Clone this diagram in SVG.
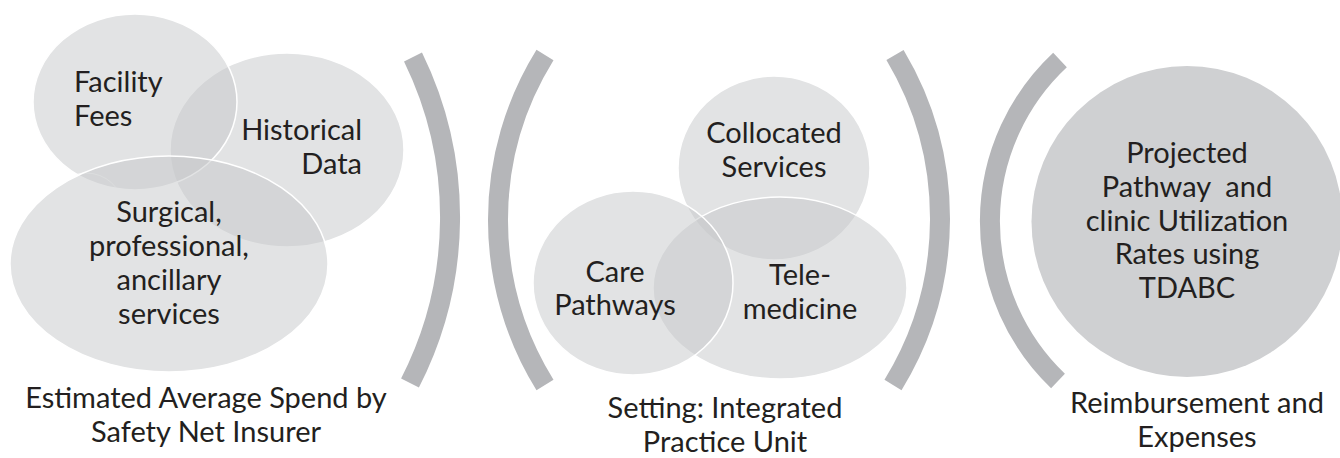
<svg xmlns="http://www.w3.org/2000/svg" width="1340" height="458" viewBox="0 0 1340 458">
  <style>
    .venn { fill: #c6c7c9; fill-opacity: 0.5; stroke: #ffffff; stroke-width: 1.5; }
    .solid { fill: #cfd0d2; }
    .bracket { fill: none; stroke: #b5b6b9; stroke-width: 20; stroke-linecap: butt; }
    text { font-family: "Lato", "Open Sans", sans-serif; font-size: 29px; fill: #231f20; }
    .mid { text-anchor: middle; }
    .end { text-anchor: end; }
  </style>

  <rect width="1340" height="458" fill="#ffffff"/>

  <!-- Stage 1: cost sources -->
  <g id="historical-data">
    <ellipse class="venn" cx="287" cy="150" rx="117" ry="97"/>
    <text class="end" x="362" y="140">Historical</text>
    <text class="end" x="362" y="174">Data</text>
  </g>
  <g id="facility-fees">
    <ellipse class="venn" cx="135" cy="102" rx="102" ry="88"/>
    <text x="74" y="92">Facility</text>
    <text x="74" y="126">Fees</text>
  </g>
  <g id="surgical-services">
    <ellipse cx="86" cy="206" rx="36" ry="33" fill="none" stroke="#ffffff" stroke-opacity="0.5" stroke-width="1"/>
    <ellipse class="venn" cx="169" cy="264" rx="159" ry="108"/>
    <text class="mid" x="169" y="222">Surgical,</text>
    <text class="mid" x="169" y="256">professional,</text>
    <text class="mid" x="169" y="290">ancillary</text>
    <text class="mid" x="169" y="324">services</text>
  </g>
  <g id="label-spend">
    <text class="mid" x="206" y="408">Estimated Average Spend by</text>
    <text class="mid" x="206" y="442">Safety Net Insurer</text>
  </g>

  <!-- Stage 2: integrated practice unit -->
  <g id="collocated-services">
    <ellipse class="venn" cx="774" cy="168" rx="96" ry="92"/>
    <text class="mid" x="774" y="143">Collocated</text>
    <text class="mid" x="774" y="177">Services</text>
  </g>
  <g id="telemedicine">
    <ellipse class="venn" cx="780" cy="288" rx="127" ry="91"/>
    <text class="mid" x="800" y="285">Tele-</text>
    <text class="mid" x="800" y="319">medicine</text>
  </g>
  <g id="care-pathways">
    <ellipse class="venn" cx="633" cy="283" rx="100" ry="92"/>
    <text class="mid" x="615" y="282">Care</text>
    <text class="mid" x="615" y="315">Pathways</text>
  </g>
  <g id="label-setting">
    <text class="mid" x="725" y="418">Setting: Integrated</text>
    <text class="mid" x="725" y="452">Practice Unit</text>
  </g>

  <!-- Stage 3: projected utilization -->
  <g id="projected-utilization">
    <circle class="solid" cx="1187" cy="221.5" r="155.5"/>
    <text class="mid" x="1187" y="163">Projected</text>
    <text class="mid" x="1187" y="197">Pathway&#160; and</text>
    <text class="mid" x="1187" y="231">clinic Utilization</text>
    <text class="mid" x="1187" y="264">Rates using</text>
    <text class="mid" x="1187" y="298">TDABC</text>
  </g>
  <g id="label-reimbursement">
    <text class="mid" x="1197" y="413">Reimbursement and</text>
    <text class="mid" x="1197" y="447">Expenses</text>
  </g>

  <!-- Bracket separators between the stages -->
  <g id="brackets">
    <path class="bracket" d="M 413 57 A 364 364 0 0 1 410 383"/>
    <path class="bracket" d="M 545 55 A 313 313 0 0 0 545 385"/>
    <path class="bracket" d="M 895 55 A 319 319 0 0 1 893 385"/>
    <path class="bracket" d="M 1060 60 A 221 221 0 0 0 1058 381"/>
  </g>
</svg>
